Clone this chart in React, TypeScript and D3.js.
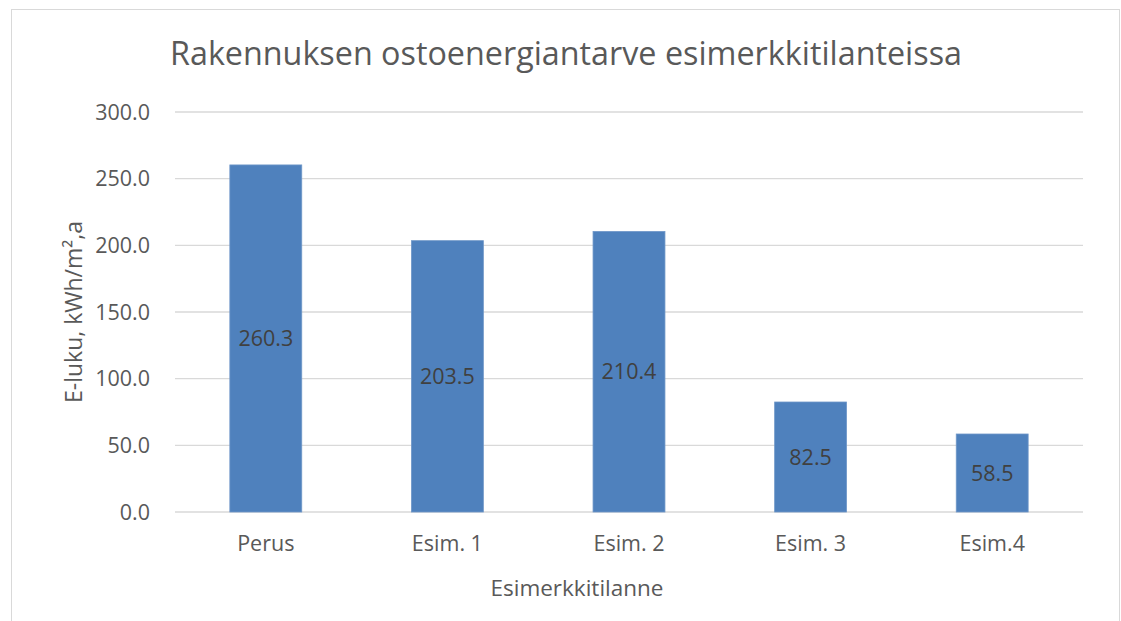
import React from 'react';
import * as d3 from 'd3';

const categories = ['Perus', 'Esim. 1', 'Esim. 2', 'Esim. 3', 'Esim.4'];
const values = [260.3, 203.5, 210.4, 82.5, 58.5];
const yTicks = [0, 50, 100, 150, 200, 250, 300];

const title = 'Rakennuksen ostoenergiantarve esimerkkitilanteissa';
const xTitle = 'Esimerkkitilanne';
const yTitle = 'E-luku, kWh/m²,a';

const W = 1121;
const H = 621;
const plot = { left: 175, right: 1083, top: 112, bottom: 512 };
const font = "'Open Sans', sans-serif";

export default function App() {
  const x = d3.scaleBand<string>()
    .domain(categories)
    .range([plot.left, plot.right])
    .paddingInner(0.604)
    .paddingOuter(0.302);

  const y = d3.scaleLinear()
    .domain([0, 300])
    .range([plot.bottom, plot.top]);

  return (
    <svg width={W} height={H} style={{ position: 'absolute', left: 0, top: 0, background: '#fff' }}>
      <rect x={11.5} y={9.5} width={1108} height={640} fill="#fff" stroke="#d9d9d9" />

      <text x={566} y={65} textAnchor="middle" fontFamily={font} fontSize={32.3} fill="#595959">
        {title}
      </text>

      {yTicks.map(t => (
        <g key={t}>
          <line x1={plot.left} x2={plot.right} y1={y(t)} y2={y(t)} stroke="#d9d9d9" strokeWidth={1.3} />
          <text x={150} y={y(t)} dy="0.36em" textAnchor="end" fontFamily={font} fontSize={21.5} fill="#595959">
            {t.toFixed(1)}
          </text>
        </g>
      ))}

      {categories.map((c, i) => (
        <g key={c}>
          <rect
            x={x(c)}
            y={y(values[i])}
            width={x.bandwidth()}
            height={y(0) - y(values[i])}
            fill="#4f81bd"
            stroke="#6f97c8"
            strokeWidth={0.8}
          />
          <text
            x={(x(c) as number) + x.bandwidth() / 2}
            y={(y(values[i]) + y(0)) / 2}
            dy="0.36em"
            textAnchor="middle"
            fontFamily={font}
            fontSize={21.5}
            fill="#404040"
          >
            {values[i].toFixed(1)}
          </text>
          <text
            x={(x(c) as number) + x.bandwidth() / 2}
            y={551}
            textAnchor="middle"
            fontFamily={font}
            fontSize={21.5}
            fill="#595959"
          >
            {c}
          </text>
        </g>
      ))}

      <text x={577} y={596} textAnchor="middle" fontFamily={font} fontSize={22.5} fill="#595959">
        {xTitle}
      </text>

      <text
        transform={`translate(82, ${(plot.top + plot.bottom) / 2}) rotate(-90)`}
        textAnchor="middle"
        fontFamily={font}
        fontSize={23}
        fill="#595959"
      >
        {yTitle}
      </text>
    </svg>
  );
}
